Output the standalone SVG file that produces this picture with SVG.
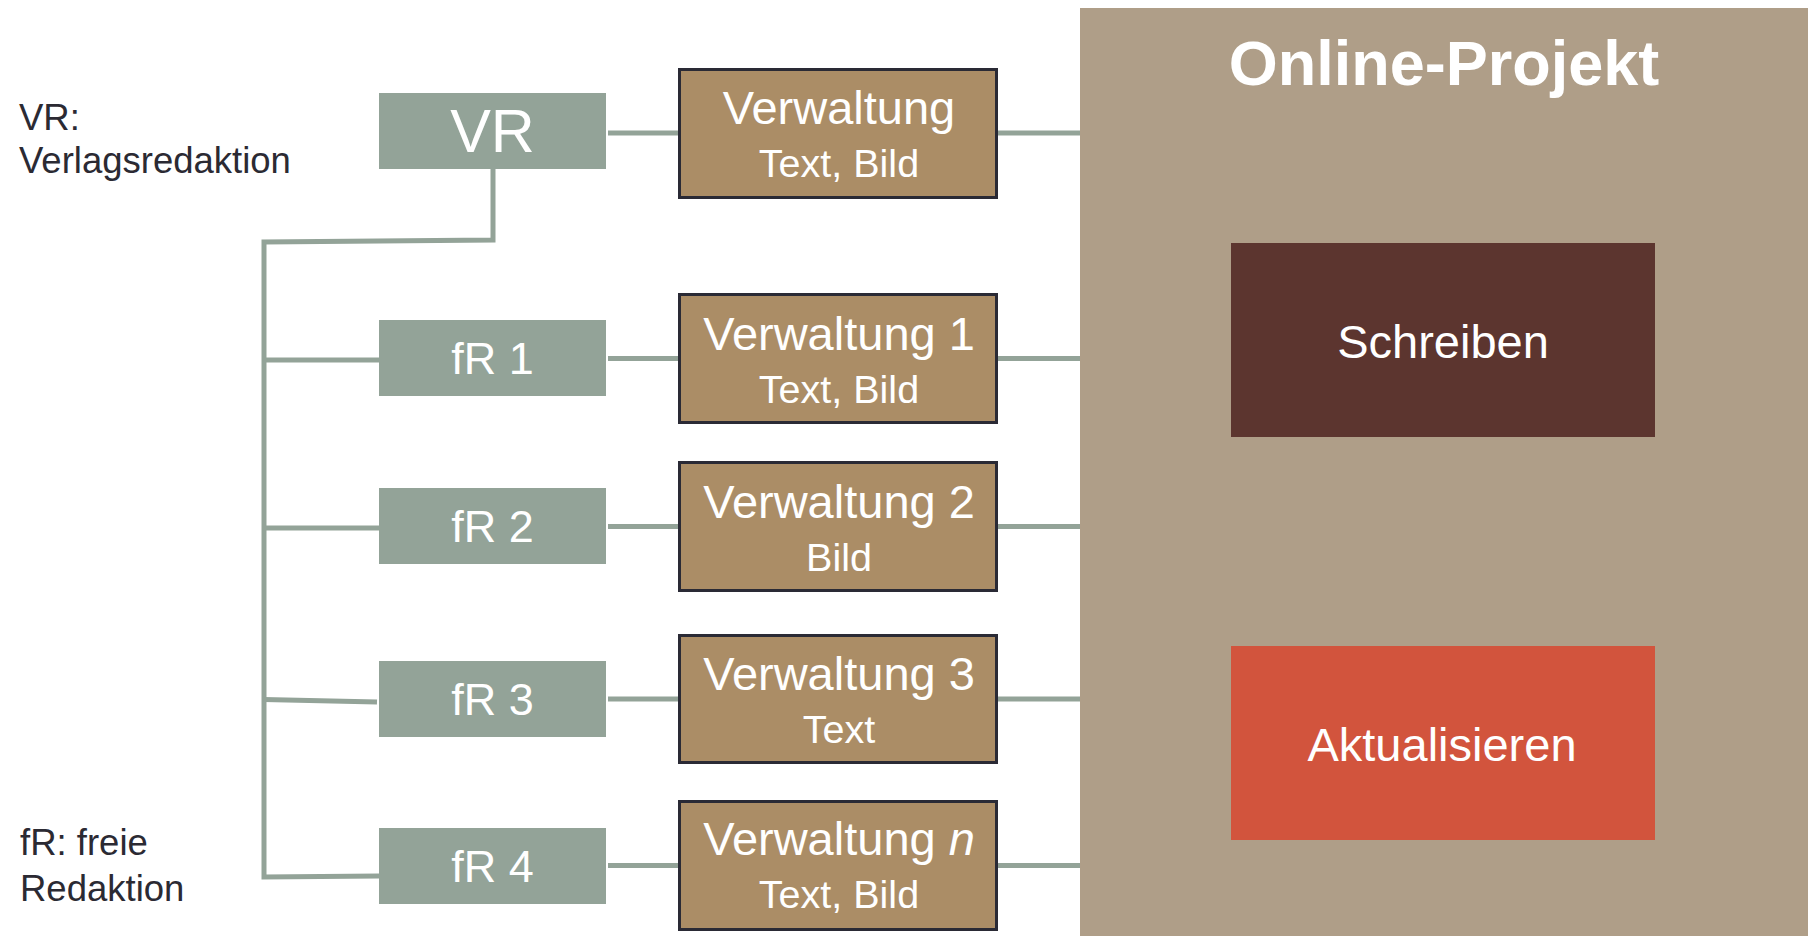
<svg xmlns="http://www.w3.org/2000/svg" width="1808" height="936" viewBox="0 0 1808 936">
  <style>
    text { font-family: "Liberation Sans", Arial, sans-serif; }
    .legend { font-size: 36.5px; fill: #2B2A33; }
    .editor { fill: #93A398; }
    .editor-label { font-size: 45px; fill: #FFFFFF; text-anchor: middle; }
    .admin { fill: #AB8D66; stroke: #2A2A35; stroke-width: 3; }
    .admin-title { font-size: 47px; fill: #FFFFFF; text-anchor: middle; }
    .admin-sub { font-size: 39.5px; fill: #FFFFFF; text-anchor: middle; }
    .task-label { font-size: 47px; fill: #FFFFFF; text-anchor: middle; }
    .link { fill: none; stroke: #93A398; stroke-width: 5; stroke-linejoin: miter; stroke-linecap: butt; }
  </style>

  <rect width="1808" height="936" fill="#FFFFFF"/>

  <!-- Online project panel -->
  <g id="online-projekt">
    <rect x="1080" y="8" width="728" height="928" fill="#AF9E88"/>
    <text x="1444" y="85" font-size="63" font-weight="bold" fill="#FFFFFF" text-anchor="middle">Online-Projekt</text>
  </g>
  <g id="schreiben">
    <rect x="1231" y="243" width="424" height="194" fill="#5C352F"/>
    <text class="task-label" x="1443" y="358">Schreiben</text>
  </g>
  <g id="aktualisieren">
    <rect x="1231" y="646" width="424" height="194" fill="#D2543D"/>
    <text class="task-label" x="1442" y="761">Aktualisieren</text>
  </g>

  <!-- Legends -->
  <g id="legend-vr">
    <text class="legend" x="19" y="130">VR:</text>
    <text class="legend" x="19" y="173">Verlagsredaktion</text>
  </g>
  <g id="legend-fr">
    <text class="legend" x="20" y="855">fR: freie</text>
    <text class="legend" x="20" y="901">Redaktion</text>
  </g>

  <!-- Connectors -->
  <g id="connectors">
    <path class="link" d="M493,169 V240 L264,242 V877 L379,876"/>
    <path class="link" d="M264,360 H379"/>
    <path class="link" d="M264,528 H379"/>
    <path class="link" d="M264,699.5 L377,702"/>
    <path class="link" d="M608,133 H678"/>
    <path class="link" d="M608,358.5 H678"/>
    <path class="link" d="M608,526.5 H678"/>
    <path class="link" d="M608,699 H678"/>
    <path class="link" d="M608,865.5 H678"/>
    <path class="link" d="M998,133 H1080"/>
    <path class="link" d="M998,358.5 H1080"/>
    <path class="link" d="M998,526.5 H1080"/>
    <path class="link" d="M998,699 H1080"/>
    <path class="link" d="M998,865.5 H1080"/>
  </g>

  <!-- Editorial teams -->
  <g id="vr">
    <rect class="editor" x="379" y="93" width="227" height="76"/>
    <text x="492.5" y="152" font-size="61" fill="#FFFFFF" text-anchor="middle">VR</text>
  </g>
  <g id="fr1">
    <rect class="editor" x="379" y="320" width="227" height="76"/>
    <text class="editor-label" x="492.5" y="374">fR 1</text>
  </g>
  <g id="fr2">
    <rect class="editor" x="379" y="488" width="227" height="76"/>
    <text class="editor-label" x="492.5" y="542">fR 2</text>
  </g>
  <g id="fr3">
    <rect class="editor" x="379" y="661" width="227" height="76"/>
    <text class="editor-label" x="492.5" y="715">fR 3</text>
  </g>
  <g id="fr4">
    <rect class="editor" x="379" y="828" width="227" height="76"/>
    <text class="editor-label" x="492.5" y="882">fR 4</text>
  </g>

  <!-- Administration boxes -->
  <g id="verwaltung">
    <rect class="admin" x="679.5" y="69.5" width="317" height="128"/>
    <text class="admin-title" x="839" y="124">Verwaltung</text>
    <text class="admin-sub" x="839" y="177">Text, Bild</text>
  </g>
  <g id="verwaltung-1">
    <rect class="admin" x="679.5" y="294.5" width="317" height="128"/>
    <text class="admin-title" x="839" y="349.5">Verwaltung 1</text>
    <text class="admin-sub" x="839" y="402.5">Text, Bild</text>
  </g>
  <g id="verwaltung-2">
    <rect class="admin" x="679.5" y="462.5" width="317" height="128"/>
    <text class="admin-title" x="839" y="517.5">Verwaltung 2</text>
    <text class="admin-sub" x="839" y="570.5">Bild</text>
  </g>
  <g id="verwaltung-3">
    <rect class="admin" x="679.5" y="635.5" width="317" height="127"/>
    <text class="admin-title" x="839" y="690">Verwaltung 3</text>
    <text class="admin-sub" x="839" y="743">Text</text>
  </g>
  <g id="verwaltung-n">
    <rect class="admin" x="679.5" y="801.5" width="317" height="128"/>
    <text class="admin-title" x="839" y="855">Verwaltung <tspan font-style="italic">n</tspan></text>
    <text class="admin-sub" x="839" y="908">Text, Bild</text>
  </g>
</svg>
